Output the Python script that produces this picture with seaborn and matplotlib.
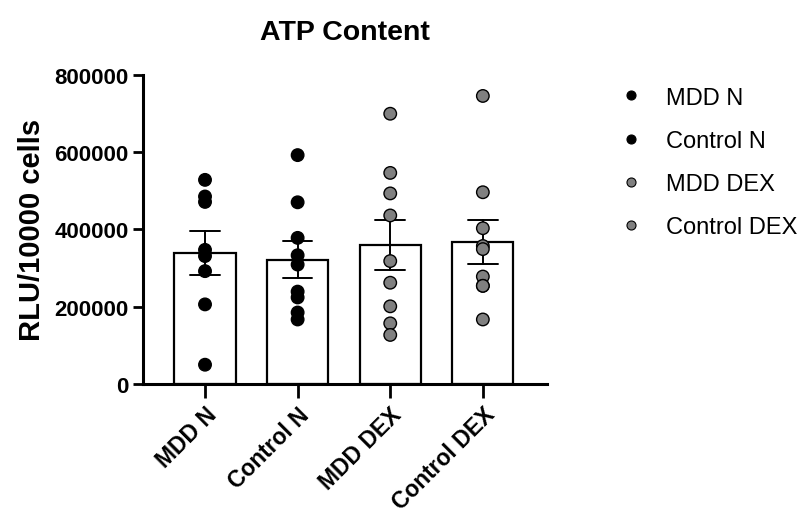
import pandas as pd
import seaborn as sns
import matplotlib.pyplot as plt

# values (RLU per 10000 cells)
groups = ['MDD N', 'Control N', 'MDD DEX', 'Control DEX']
mdd_n = [528000, 485000, 471000, 347000, 331000, 292000, 206000, 50000]
control_n = [592000, 470000, 378000, 333000, 309000, 239000, 224000, 185000, 167000]
mdd_dex = [699000, 546000, 493000, 436000, 318000, 262000, 201000, 157000, 127000]
control_dex = [745000, 496000, 403000, 357000, 349000, 278000, 254000, 254000, 167000]
point_colors = ['#000000', '#000000', '#808080', '#808080']

rows = []
for g, vals in zip(groups, [mdd_n, control_n, mdd_dex, control_dex]):
    for v in vals:
        rows.append({'Group': g, 'RLU': v})
df = pd.DataFrame(rows)

sns.set_style('ticks')
plt.rcParams['font.family'] = ['Liberation Sans', 'DejaVu Sans']
plt.rcParams['text.color'] = 'black'
plt.rcParams['axes.labelcolor'] = 'black'
plt.rcParams['axes.edgecolor'] = 'black'
plt.rcParams['xtick.color'] = 'black'
plt.rcParams['ytick.color'] = 'black'

fig = plt.figure(figsize=(8.1, 5.1), dpi=100)
ax = fig.add_axes([0.1765, 0.245, 0.4985, 0.6066])

sns.barplot(data=df, x='Group', y='RLU', order=groups, errorbar='se',
            color='white', edgecolor='black', linewidth=1.6, width=0.66,
            capsize=0.32, err_kws={'color': 'black', 'linewidth': 1.4}, ax=ax)
sns.stripplot(data=df, x='Group', y='RLU', order=groups, hue='Group',
              hue_order=groups, palette=point_colors, jitter=False, size=9,
              linewidth=1, edgecolor='black', zorder=5, legend=False, ax=ax)

# legend with marker only
handles = [plt.Line2D([], [], marker='o', linestyle='none', markersize=6.5,
                      markerfacecolor=c, markeredgecolor='black', markeredgewidth=0.8)
           for c in point_colors]
ax.legend(handles, groups, loc='upper left', bbox_to_anchor=(1.12, 1.03),
          frameon=False, fontsize=17, handletextpad=0.9, labelspacing=0.9,
          handlelength=1.2)

ax.set_xlim(-0.67, 3.69)
ax.set_ylim(0, 800000)
ax.set_yticks([0, 200000, 400000, 600000, 800000])
ax.set_yticklabels(['0', '200000', '400000', '600000', '800000'])
ax.set_title('ATP Content', fontsize=20.5, fontweight='bold', pad=26)
ax.set_xlabel('')
ax.set_ylabel('RLU/10000 cells', fontsize=21, fontweight='bold', labelpad=6)

for lab in ax.get_yticklabels():
    lab.set_fontweight('bold')
    lab.set_fontsize(16)
for lab in ax.get_xticklabels():
    lab.set_fontweight('bold')
    lab.set_fontsize(16.5)
    lab.set_rotation(45)
    lab.set_ha('right')
    lab.set_rotation_mode('anchor')

sns.despine(ax=ax)
for side in ['left', 'bottom']:
    ax.spines[side].set_linewidth(2.2)
ax.tick_params(axis='y', width=2, length=7)
ax.tick_params(axis='x', width=2, length=10)

fig.savefig('out.png', dpi=100)
